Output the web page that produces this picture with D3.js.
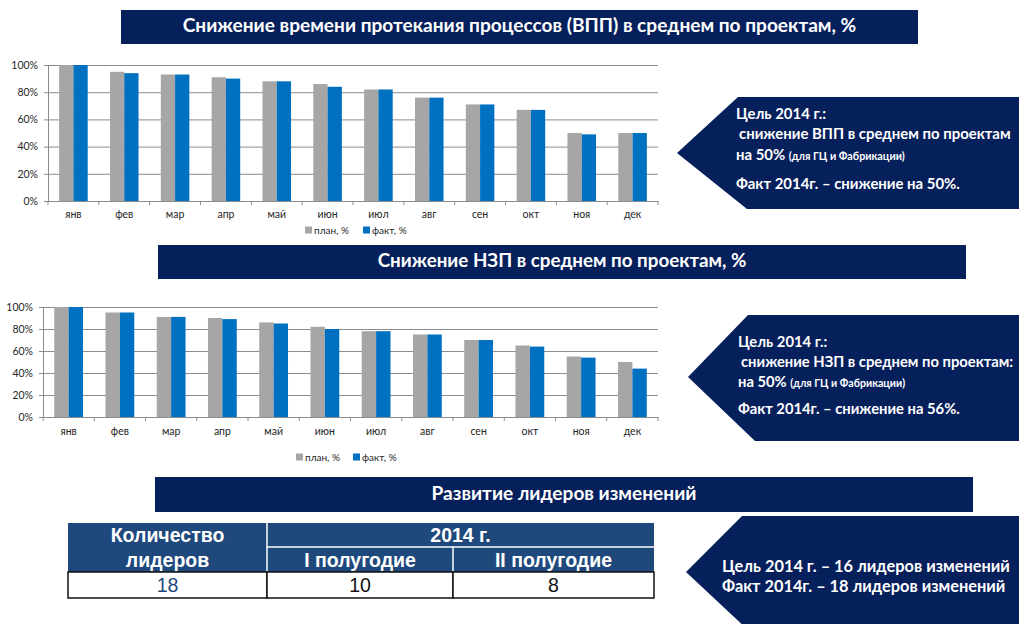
<!DOCTYPE html>
<html>
<head>
<meta charset="utf-8">
<script src="https://cdn.jsdelivr.net/npm/d3@7"></script>
<style>
    html, body { margin: 0; padding: 0; background: #fff; }
    svg { display: block; }
    .calibri { font-family: Lato, "Open Sans", sans-serif; }
    .arial { font-family: "Liberation Sans", Arial, sans-serif; }
</style>
</head>
<body>
<svg id="root" width="1019" height="624"></svg>
<script>
// данные
var months = ['янв', 'фев', 'мар', 'апр', 'май', 'июн', 'июл', 'авг', 'сен', 'окт', 'ноя', 'дек'];
var yTicks = [0, 20, 40, 60, 80, 100];
var seriesNames = ['план, %', 'факт, %'];

var vppPlan = [100, 95, 93, 91, 88, 86, 82, 76, 71, 67, 50, 50];
var vppFact = [100, 94, 93, 90, 88, 84, 82, 76, 71, 67, 49, 50];

var nzpPlan = [100, 95, 91, 90, 86, 82, 78, 75, 70, 65, 55, 50];
var nzpFact = [100, 95, 91, 89, 85, 80, 78, 75, 70, 64, 54, 44];

var titles = [
    'Снижение времени протекания процессов (ВПП) в среднем по проектам, %',
    'Снижение НЗП в среднем по проектам, %',
    'Развитие лидеров изменений'
];

var tableHead = ['Количество', 'лидеров', '2014 г.', 'I полугодие', 'II полугодие'];
var tableValues = [18, 10, 8];

var NAVY = '#06205c';
var PLAN = '#a6a6a6';
var FACT = '#0070c0';

var svg = d3.select('#root');

// подгонка ширины текста
function fitText(text, width) {
    var size = parseFloat(text.attr('font-size'));
    var w = text.node().getComputedTextLength();
    var k = width / w;
    text.attr('font-size', size * k);
    return size * k;
}

// заголовок
function drawTitle(x0, y0, x1, y1, label, textWidth) {
    svg.append('rect')
        .attr('x', x0)
        .attr('y', y0)
        .attr('width', x1 - x0)
        .attr('height', y1 - y0)
        .attr('fill', NAVY);

    var t = svg.append('text')
        .attr('class', 'calibri')
        .attr('x', (x0 + x1) / 2)
        .attr('y', (y0 + y1) / 2 + 5)
        .attr('text-anchor', 'middle')
        .attr('font-weight', 'bold')
        .attr('font-size', 16)
        .attr('fill', '#fff')
        .text(label);
    fitText(t, textWidth);
}

// столбчатая диаграмма
function drawChart(cfg) {
    var g = svg.append('g');
    var w = cfg.x1 - cfg.x0;

    var x = d3.scaleBand()
        .domain(months)
        .range([cfg.x0, cfg.x1])
        .padding(0);

    var xs = d3.scaleBand()
        .domain([0, 1])
        .range([0, x.bandwidth()])
        .paddingInner(0)
        .paddingOuter(0.78);

    var y = d3.scaleLinear()
        .domain([0, 100])
        .range([cfg.y0, cfg.y1]);

    // сетка
    var ya = g.append('g')
        .attr('transform', `translate(${cfg.x0},0)`)
        .call(d3.axisLeft(y)
            .tickValues(yTicks)
            .tickSize(-w)
            .tickPadding(cfg.pad)
            .tickFormat(d => d + '%'));
    ya.select('.domain').attr('stroke', '#8c8c8c');
    ya.selectAll('.tick line')
        .attr('x1', -4)
        .attr('stroke', '#8c8c8c');
    ya.selectAll('.tick text')
        .attr('class', 'calibri')
        .attr('font-size', 10.5)
        .attr('fill', '#262626');

    // столбцы
    var rows = months.map((m, i) => ({ m: m, v: [cfg.plan[i], cfg.fact[i]] }));
    var grp = g.selectAll('.grp')
        .data(rows)
        .enter()
        .append('g')
        .attr('transform', d => `translate(${x(d.m)},0)`);

    grp.selectAll('rect')
        .data(d => d.v)
        .enter()
        .append('rect')
        .attr('x', (d, i) => xs(i))
        .attr('y', d => y(d))
        .attr('width', xs.bandwidth())
        .attr('height', d => y(0) - y(d))
        .attr('fill', (d, i) => i === 0 ? PLAN : FACT);

    // ось X
    var xa = g.append('g')
        .attr('transform', `translate(0,${cfg.y0})`)
        .call(d3.axisBottom(x).tickSize(0).tickPadding(cfg.xpad));
    xa.select('.domain').attr('stroke', '#8c8c8c');
    xa.selectAll('.tick text')
        .attr('class', 'calibri')
        .attr('font-size', 10.5)
        .attr('fill', '#262626');

    g.selectAll('.xtick')
        .data(months.concat(['end']))
        .enter()
        .append('line')
        .attr('x1', (d, i) => cfg.x0 + i * x.step())
        .attr('x2', (d, i) => cfg.x0 + i * x.step())
        .attr('y1', cfg.y0)
        .attr('y2', cfg.y0 + 4)
        .attr('stroke', '#8c8c8c');

    // легенда
    var lg = g.selectAll('.lg')
        .data(seriesNames)
        .enter()
        .append('g')
        .attr('transform', (d, i) => `translate(${cfg.legend[i]},${cfg.ly})`);

    lg.append('rect')
        .attr('x', 0)
        .attr('y', -3.5)
        .attr('width', 7)
        .attr('height', 7)
        .attr('fill', (d, i) => i === 0 ? PLAN : FACT);

    lg.append('text')
        .attr('class', 'calibri')
        .attr('x', 9)
        .attr('y', 3.5)
        .attr('font-size', 10)
        .attr('fill', '#262626')
        .text(d => d);
}

// выноска-стрелка
function drawCallout(pts, lines, lx, baselines, fitIndex, fitWidth) {
    svg.append('path')
        .attr('d', d3.line()(pts) + 'Z')
        .attr('fill', NAVY);

    var texts = lines.map((parts, i) => {
        var t = svg.append('text')
            .attr('class', 'calibri')
            .attr('x', lx)
            .attr('y', baselines[i])
            .attr('font-weight', 'bold')
            .attr('font-size', 13)
            .attr('fill', '#fff');
        parts.forEach(p => {
            t.append('tspan')
                .attr('font-size', p.small ? 9.5 : null)
                .text(p.text);
        });
        return t;
    });

    var size = fitText(texts[fitIndex], fitWidth);
    texts.forEach(t => {
        t.attr('font-size', size);
        t.selectAll('tspan').filter(function () { return this.getAttribute('font-size'); })
            .attr('font-size', size * 0.72);
    });
}

drawTitle(121, 10, 918, 44, titles[0], 674);
drawChart({
    plan: vppPlan, fact: vppFact,
    x0: 48, x1: 658, y0: 201, y1: 65,
    pad: 10, xpad: 10,
    legend: [305, 363], ly: 230
});

drawCallout(
    [[677, 153], [738, 97], [1025, 97], [1025, 209], [747, 209]],
    [
        [{ text: 'Цель 2014 г.:' }],
        [{ text: 'снижение ВПП в среднем по проектам' }],
        [{ text: 'на 50% ' }, { text: '(для ГЦ и Фабрикации)', small: true }],
        [{ text: 'Факт 2014г. – снижение на 50%.' }]
    ],
    736, [119, 139, 160, 189], 1, 272
);
// отступ второй строки
svg.selectAll('text').filter(function () { return this.textContent === 'снижение ВПП в среднем по проектам'; })
    .attr('x', 739);

drawTitle(158, 245, 966, 279, titles[1], 369);
drawChart({
    plan: nzpPlan, fact: nzpFact,
    x0: 43, x1: 658, y0: 417, y1: 307,
    pad: 10, xpad: 11,
    legend: [296, 353], ly: 457
});

drawCallout(
    [[688, 377], [748, 315], [1025, 315], [1025, 441], [755, 441]],
    [
        [{ text: 'Цель 2014 г.:' }],
        [{ text: 'снижение НЗП в среднем по проектам:' }],
        [{ text: 'на 50% ' }, { text: '(для ГЦ и Фабрикации)', small: true }],
        [{ text: 'Факт 2014г. – снижение на 56%.' }]
    ],
    738, [347, 367, 387, 414], 3, 222
);
svg.selectAll('text').filter(function () { return this.textContent === 'снижение НЗП в среднем по проектам:'; })
    .attr('x', 741);

drawTitle(155, 477, 973, 512, titles[2], 265);

drawCallout(
    [[686, 572], [742, 516], [1025, 516], [1025, 630], [748, 630]],
    [
        [{ text: 'Цель 2014 г. – 16 лидеров изменений' }],
        [{ text: 'Факт 2014г. – 18 лидеров изменений' }]
    ],
    722, [572, 592], 0, 288
);

// таблица
var TH = '#1f497d';
var tx = [68, 267, 453, 654];
var ty = [523, 547, 572, 598];
var tg = svg.append('g').attr('class', 'arial');

tg.append('rect')
    .attr('x', tx[0])
    .attr('y', ty[0])
    .attr('width', tx[3] - tx[0])
    .attr('height', ty[2] - ty[0])
    .attr('fill', TH);

tg.append('line')
    .attr('x1', tx[1]).attr('x2', tx[1])
    .attr('y1', ty[0]).attr('y2', ty[2])
    .attr('stroke', '#fff').attr('stroke-width', 1.5);
tg.append('line')
    .attr('x1', tx[1]).attr('x2', tx[3])
    .attr('y1', ty[1]).attr('y2', ty[1])
    .attr('stroke', '#fff').attr('stroke-width', 1.5);
tg.append('line')
    .attr('x1', tx[2]).attr('x2', tx[2])
    .attr('y1', ty[1]).attr('y2', ty[2])
    .attr('stroke', '#fff').attr('stroke-width', 1.5);

tg.selectAll('.cellv')
    .data(tableValues)
    .enter()
    .append('rect')
    .attr('x', (d, i) => tx[i])
    .attr('y', ty[2])
    .attr('width', (d, i) => tx[i + 1] - tx[i])
    .attr('height', ty[3] - ty[2])
    .attr('fill', '#fff')
    .attr('stroke', '#111')
    .attr('stroke-width', 1.5);

var headPos = [
    [(tx[0] + tx[1]) / 2, 542],
    [(tx[0] + tx[1]) / 2, 567],
    [(tx[1] + tx[3]) / 2, 542],
    [(tx[1] + tx[2]) / 2, 567],
    [(tx[2] + tx[3]) / 2, 567]
];

tg.selectAll('.th')
    .data(tableHead)
    .enter()
    .append('text')
    .attr('x', (d, i) => headPos[i][0])
    .attr('y', (d, i) => headPos[i][1])
    .attr('text-anchor', 'middle')
    .attr('font-weight', 'bold')
    .attr('font-size', 19.5)
    .attr('fill', '#fff')
    .text(d => d);

tg.selectAll('.td')
    .data(tableValues)
    .enter()
    .append('text')
    .attr('x', (d, i) => (tx[i] + tx[i + 1]) / 2)
    .attr('y', 592)
    .attr('text-anchor', 'middle')
    .attr('font-size', 19.5)
    .attr('fill', (d, i) => i === 0 ? TH : '#111')
    .text(d => d);
</script>
</body>
</html>
